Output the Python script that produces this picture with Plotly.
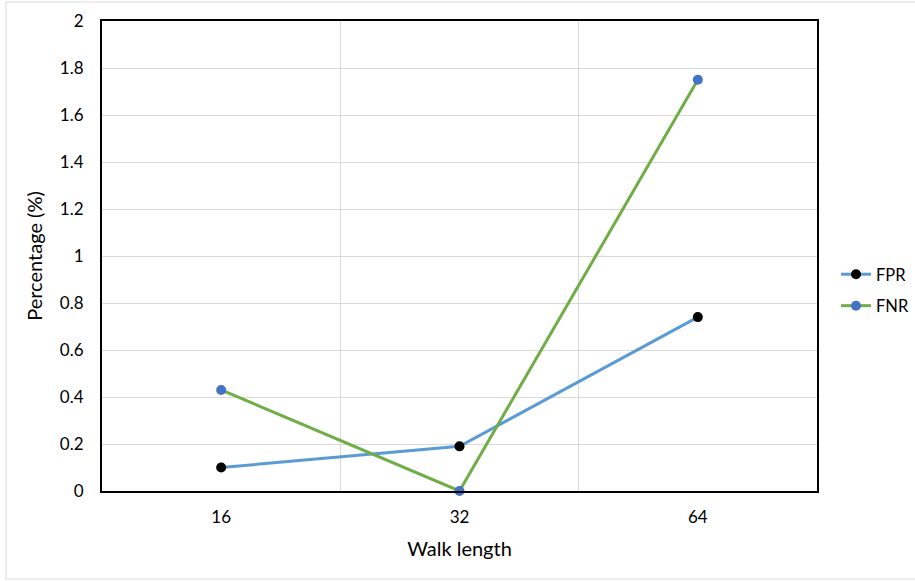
import plotly.graph_objects as go

categories = ["16", "32", "64"]
fpr = [0.1, 0.19, 0.74]
fnr = [0.43, 0.0, 1.75]
y_ticks = [0, 0.2, 0.4, 0.6, 0.8, 1, 1.2, 1.4, 1.6, 1.8, 2]
y_tick_labels = ["0", "0.2", "0.4", "0.6", "0.8", "1", "1.2", "1.4", "1.6", "1.8", "2"]

FONT = "Lato, Open Sans, sans-serif"

fig = go.Figure()
fig.add_trace(go.Scatter(
    x=categories, y=fpr, name="FPR", mode="lines+markers",
    line=dict(color="#5B9BD5", width=3),
    marker=dict(color="black", size=10),
    legendgroup="a", cliponaxis=False,
))
fig.add_trace(go.Scatter(
    x=categories, y=fnr, name="FNR", mode="lines+markers",
    line=dict(color="#70AD47", width=3),
    marker=dict(color="#4472C4", size=10),
    legendgroup="b", cliponaxis=False,
))

W, H = 915, 581
L, R, T, B = 102, 98, 21, 90
pw, ph = W - L - R, H - T - B

def px(x):
    return (x - L) / pw

def py(y):
    return (H - B - y) / ph

fig.update_layout(
    width=W, height=H,
    margin=dict(l=L, r=R, t=T, b=B, autoexpand=False),
    paper_bgcolor="white", plot_bgcolor="white",
    font=dict(family=FONT, color="black", size=17),
    showlegend=True,
    legend=dict(
        x=px(836), y=py(257), xanchor="left", yanchor="top",
        font=dict(size=16.5, family=FONT), tracegroupgap=7,
        bgcolor="rgba(0,0,0,0)", itemwidth=30,
    ),
    xaxis=dict(
        type="category", tickson="boundaries",
        showgrid=True, gridcolor="#D9D9D9", gridwidth=1,
        showline=True, linecolor="black", linewidth=2, mirror=True,
        ticks="", tickfont=dict(size=17), ticklabelstandoff=10,
        title=dict(text="Walk length", font=dict(size=20), standoff=16),
        range=[-0.5, 2.5], zeroline=False,
    ),
    yaxis=dict(
        range=[0, 2], tickvals=y_ticks, ticktext=y_tick_labels,
        showgrid=True, gridcolor="#D9D9D9", gridwidth=1,
        showline=True, linecolor="black", linewidth=2, mirror=True,
        ticks="", tickfont=dict(size=17), ticklabelstandoff=13,
        title=dict(text="Percentage (%)", font=dict(size=20), standoff=12),
        zeroline=False,
    ),
    shapes=[dict(
        type="rect", xref="paper", yref="paper",
        x0=px(6), x1=px(W + 20), y0=py(579), y1=py(2),
        line=dict(color="#D9D9D9", width=1), fillcolor="rgba(0,0,0,0)",
        layer="below",
    )],
)

fig.write_html("out.html")
